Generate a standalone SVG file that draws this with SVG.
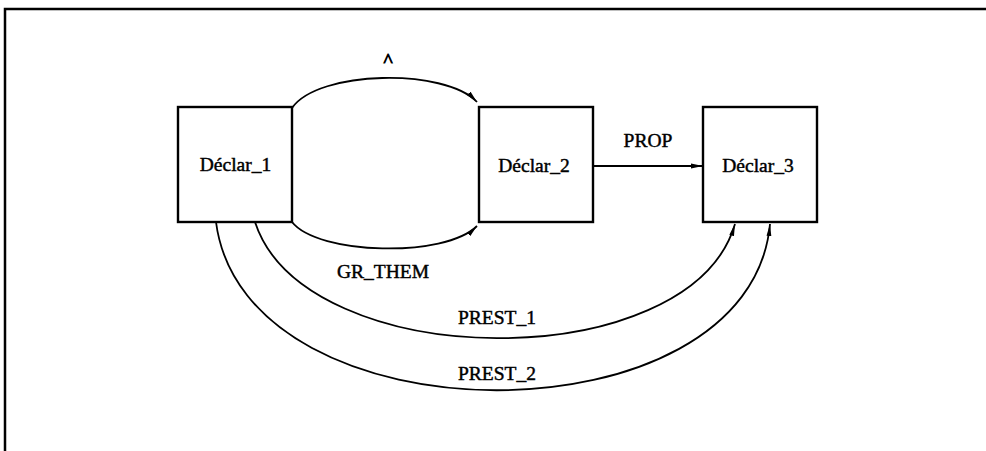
<svg xmlns="http://www.w3.org/2000/svg" width="986" height="451" viewBox="0 0 986 451">
<style>
.box{fill:#fff;stroke:#000;stroke-width:2.4}
.lbl{font-family:"Liberation Serif","DejaVu Serif",serif;font-size:19.5px;fill:#000;stroke:#000;stroke-width:0.45;text-anchor:middle}
.edge{fill:none;stroke:#000;stroke-width:1.8}
.frame{fill:none;stroke:#000;stroke-width:2.5}
</style>
<defs>
<marker id="arr" viewBox="0 0 12 6" refX="12" refY="3" markerWidth="12" markerHeight="6" markerUnits="userSpaceOnUse" orient="auto">
<path d="M0,0.6 L12,3 L0,5.4 Z" fill="#000"/>
</marker>
</defs>
<rect width="986" height="451" fill="#fff"/>
<path class="frame" d="M5,451 L5,9 L986,9"/>
<g id="connectors">
<path id="e-and" class="edge" d="M292,108 C318,70 445,68 477,102" marker-end="url(#arr)"/>
<path id="e-grthem" class="edge" d="M292,222 C318,255 445,258 477,226" marker-end="url(#arr)"/>
<path id="e-prop" class="edge" d="M593,166 L703,166" marker-end="url(#arr)"/>
<path id="e-prest1" class="edge" d="M255,222 C305,375 690,378 735,224" marker-end="url(#arr)"/>
<path id="e-prest2" class="edge" d="M216,222 C245,446 750,446 770,224" marker-end="url(#arr)"/>
<text class="lbl" x="388" y="67" style="stroke-width:0.9">^</text>
<text class="lbl" x="383" y="278">GR_THEM</text>
<text class="lbl" x="648" y="147">PROP</text>
<text class="lbl" x="497" y="324">PREST_1</text>
<text class="lbl" x="497" y="380">PREST_2</text>
</g>
<g id="n1">
<rect class="box" x="178" y="107" width="114" height="115"/>
<text class="lbl" x="235.5" y="171">Déclar_1</text>
</g>
<g id="n2">
<rect class="box" x="479" y="107" width="114" height="115"/>
<text class="lbl" x="534" y="172">Déclar_2</text>
</g>
<g id="n3">
<rect class="box" x="703" y="107" width="114" height="115"/>
<text class="lbl" x="758" y="172">Déclar_3</text>
</g>
</svg>
